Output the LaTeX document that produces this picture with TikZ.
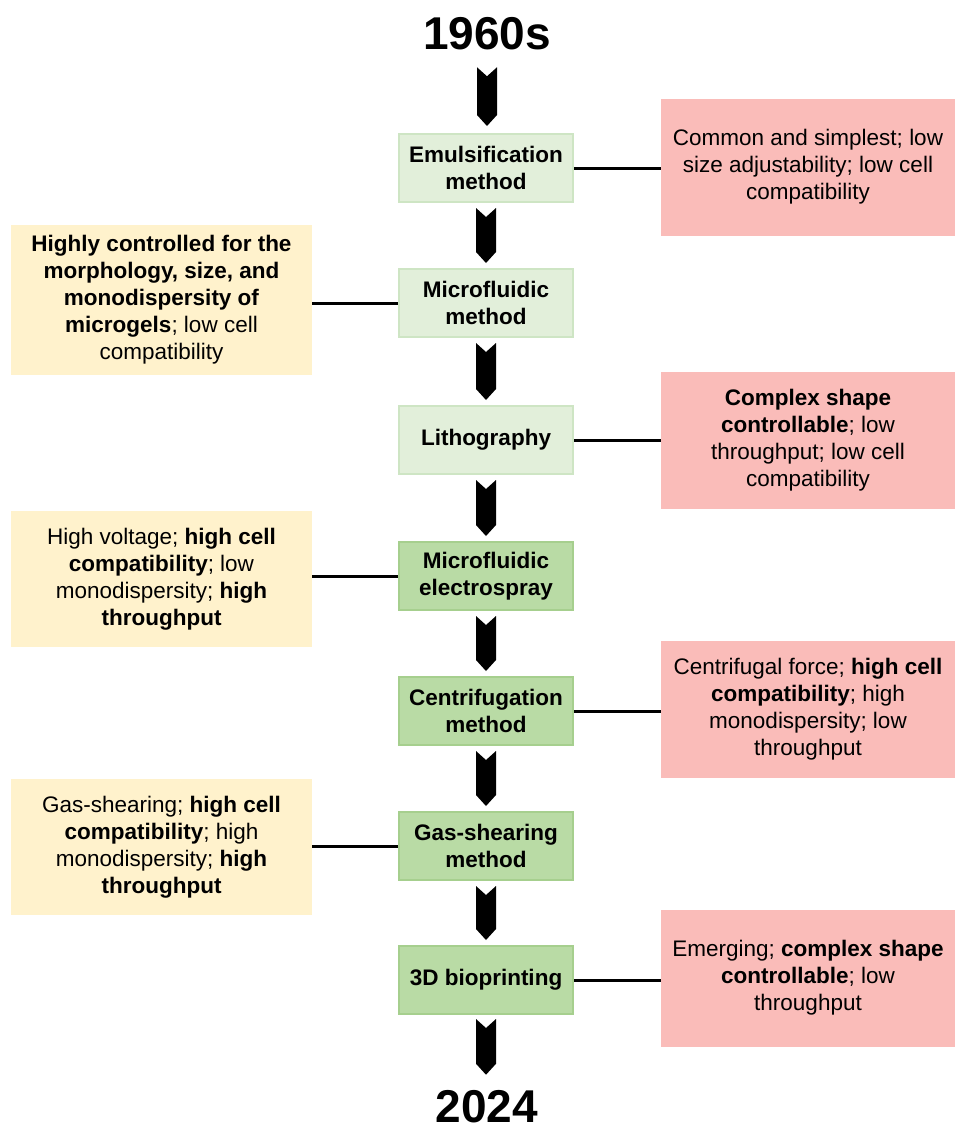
\documentclass[tikz,border=0pt]{standalone}
\usepackage{fontspec}
\setmainfont{Liberation Sans}
\usetikzlibrary{calc}
\definecolor{pinkfill}{RGB}{250,188,185}
\definecolor{yelfill}{RGB}{255,242,204}
\definecolor{lgfill}{RGB}{226,239,218}
\definecolor{lgdraw}{RGB}{206,229,196}
\definecolor{dgfill}{RGB}{185,219,165}
\definecolor{dgdraw}{RGB}{166,207,142}
\newcommand\chev[4]{%
  \fill[black] let \p1=(#1.south), \p2=(#2.north) in
   (\x1-10pt,\y1-#3pt) -- (\x1,\y1-#3pt-9pt) -- (\x1+10pt,\y1-#3pt)
   -- (\x1+10pt,\y2+#4pt+11pt) -- (\x1,\y2+#4pt) -- (\x1-10pt,\y2+#4pt+11pt) -- cycle;}
\begin{document}
\begin{tikzpicture}[x=1pt,y=-1pt,
  every node/.style={font=\fontsize{22.5}{27}\selectfont, align=center, inner sep=0pt},
  mbox/.style={minimum width=174pt, minimum height=68pt, line width=2pt,
    font=\fontsize{22.5}{27}\selectfont\bfseries},
  lgbox/.style={mbox, fill=lgfill, draw=lgdraw},
  dgbox/.style={mbox, fill=dgfill, draw=dgdraw},
  rbox/.style={fill=pinkfill, minimum width=294pt, minimum height=137pt},
  lbox/.style={fill=yelfill, minimum width=301pt, minimum height=136pt},
  link/.style={line width=3pt},
  year/.style={font=\fontsize{46}{48}\selectfont\bfseries, align=none, text depth=0pt}]
\useasboundingbox (0,0) rectangle (955,1127);

\node[year] (y1) at (487,33) {1960s};
\node[lgbox] (m1) at (486,168) {Emulsification\\method};
\node[lgbox] (m2) at (486,303) {Microfluidic\\method};
\node[lgbox] (m3) at (486,440) {Lithography};
\node[dgbox] (m4) at (486,576) {Microfluidic\\electrospray};
\node[dgbox] (m5) at (486,711) {Centrifugation\\method};
\node[dgbox] (m6) at (486,846) {Gas-shearing\\method};
\node[dgbox] (m7) at (486,980) {3D bioprinting};
\node[year] (y2) at (487,1106) {2024};

\node[rbox] (r1) at (808,167) {Common and simplest; low\\size adjustability; low cell\\compatibility};
\node[rbox] (r3) at (808,440) {\textbf{Complex shape}\\\textbf{controllable}; low\\throughput; low cell\\compatibility};
\node[rbox] (r5) at (808,709) {Centrifugal force; \textbf{high cell}\\\textbf{compatibility}; high\\monodispersity; low\\throughput};
\node[rbox] (r7) at (808,978) {Emerging; \textbf{complex shape}\\\textbf{controllable}; low\\throughput};

\node[lbox, minimum height=150pt] (l2) at (161.5,300) {\textbf{Highly controlled for the}\\\textbf{morphology, size, and}\\\textbf{monodispersity of}\\\textbf{microgels}; low cell\\compatibility};
\node[lbox] (l4) at (161.5,579) {High voltage; \textbf{high cell}\\\textbf{compatibility}; low\\monodispersity; \textbf{high}\\\textbf{throughput}};
\node[lbox] (l6) at (161.5,847) {Gas-shearing; \textbf{high cell}\\\textbf{compatibility}; high\\monodispersity; \textbf{high}\\\textbf{throughput}};

\draw[link] (m1.east) -- (m1.east -| r1.west);
\draw[link] (m3.east) -- (m3.east -| r3.west);
\draw[link] (m5.east) -- (m5.east -| r5.west);
\draw[link] (m7.east) -- (m7.east -| r7.west);
\draw[link] (m2.west) -- (m2.west -| l2.east);
\draw[link] (m4.west) -- (m4.west -| l4.east);
\draw[link] (m6.west) -- (m6.west -| l6.east);

\chev{y1}{m1}{18}{7}
\chev{m1}{m2}{5}{5}
\chev{m2}{m3}{5}{5}
\chev{m3}{m4}{5}{5}
\chev{m4}{m5}{5}{5}
\chev{m5}{m6}{5}{5}
\chev{m6}{m7}{5}{5}
\chev{m7}{y2}{4}{15}
\end{tikzpicture}
\end{document}
